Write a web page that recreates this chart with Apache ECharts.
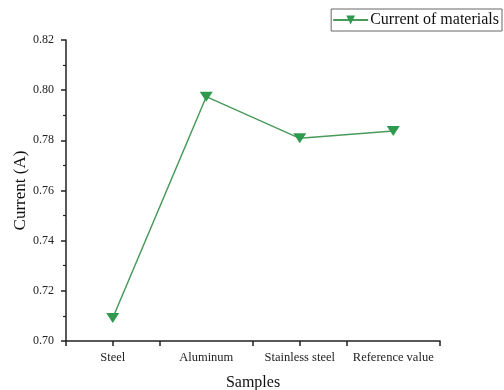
<!DOCTYPE html>
<html><head><meta charset="utf-8">
<script src="https://cdn.jsdelivr.net/npm/echarts@6/dist/echarts.min.js"></script>
<style>html,body{margin:0;padding:0;background:#fff}#c{width:504px;height:390px}</style>
</head><body><div id="c"></div>
<script>
var categories = ["Steel", "Aluminum", "Stainless steel", "Reference value"];
var currentValues = [0.7092, 0.7974, 0.7808, 0.7837];
var seriesName = "Current of materials";
var yTicks = [0.70, 0.72, 0.74, 0.76, 0.78, 0.80, 0.82];

var font = "'Liberation Serif','Times New Roman',serif";
var axisColor = "#222";
var chart = echarts.init(document.getElementById('c'));
chart.setOption({
  animation: false,
  textStyle: {fontFamily: font},
  legend: {
    data: [seriesName], right: 2, top: 9,
    itemWidth: 35, itemHeight: 11, itemGap: 4,
    padding: [3, 3, 3, 1],
    borderColor: "#666", borderWidth: 1,
    textStyle: {fontFamily: font, fontSize: 16, color: "#111", padding: [0,0,0,-3]},
    symbolRotate: 'inherit'
  },
  grid: {left: 66, right: 64, top: 40, bottom: 49, containLabel: false, outerBoundsMode: 'none'},
  xAxis: [{
    type: 'category', data: categories, boundaryGap: true,
    name: 'Samples', nameLocation: 'middle', nameGap: 34, nameMoveOverlap: false,
    nameTextStyle: {fontFamily: font, fontSize: 16, color: '#111'},
    axisLine: {lineStyle: {color: axisColor, width: 1.5}},
    axisTick: {show: true, alignWithLabel: false, inside: false, length: 5, lineStyle: {color: axisColor, width: 1.5}},
    axisLabel: {fontFamily: font, fontSize: 12.5, color: '#222', margin: 10, interval: 0},
    splitLine: {show: false}
  }, {
    type: 'category', data: categories, boundaryGap: true, position: 'bottom',
    axisLine: {show: false},
    axisTick: {show: true, alignWithLabel: true, length: 5, lineStyle: {color: axisColor, width: 1.5}},
    axisLabel: {show: false},
    splitLine: {show: false}
  }],
  yAxis: {
    type: 'value', min: 0.70, max: 0.82, interval: 0.02,
    name: 'Current (A)', nameLocation: 'middle', nameGap: 37, nameRotate: 90, nameMoveOverlap: false,
    nameTextStyle: {fontFamily: font, fontSize: 17, color: '#111'},
    axisLine: {show: true, lineStyle: {color: axisColor, width: 1.5}},
    axisTick: {show: true, length: 5, lineStyle: {color: axisColor, width: 1.5}},
    minorTick: {show: true, splitNumber: 2, length: 3, lineStyle: {color: axisColor, width: 1.2}},
    axisLabel: {fontFamily: font, fontSize: 12, color: '#222', margin: 12,
      formatter: function (v) { return v.toFixed(2); }},
    splitLine: {show: false}
  },
  series: [{
    name: seriesName, type: 'line', data: currentValues,
    symbol: 'triangle', symbolRotate: 180, symbolSize: [13, 10],
    lineStyle: {color: '#4a9a5c', width: 1.5},
    itemStyle: {color: '#2f9a4e'}
  }]
});
</script></body></html>
